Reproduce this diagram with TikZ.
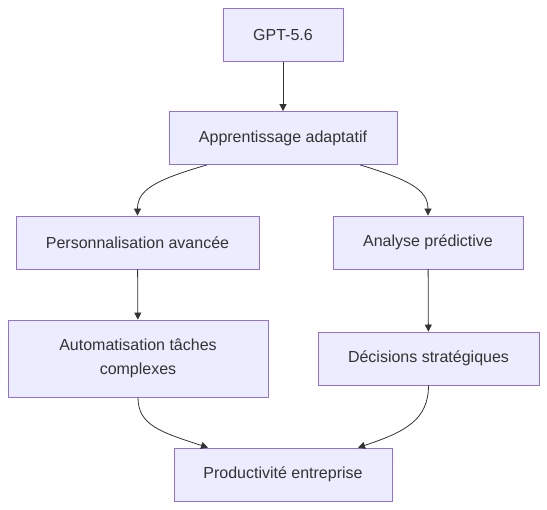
\documentclass[tikz,border=0pt]{standalone}
\usepackage{fontspec}
\setmainfont{Liberation Sans}
\usepackage{tikz}
\usetikzlibrary{arrows.meta}
\definecolor{boxfill}{HTML}{ECECFF}
\definecolor{boxline}{HTML}{9370DB}
\definecolor{ink}{HTML}{333333}
\begin{document}
\begin{tikzpicture}[x=1pt,y=1pt,
  main/.style = {draw=boxline, fill=boxfill, line width=0.8pt, text=ink, minimum height=53pt, align=center, font=\fontsize{16}{24}\selectfont},
  link/.style = {draw=ink, line width=0.8pt, -{Triangle[length=7pt,width=7pt]}},
  node distance={103pt}]
\useasboundingbox (0,0) rectangle (547,-510);
\node[main, minimum width=120pt] (gpt) at (283,-35) {GPT-5.6};
\node[main, minimum width=228pt] (appr) [below of=gpt] {Apprentissage adaptatif};
\node[main, minimum width=243pt] (pers) at (137.5,-242.5) {Personnalisation avancée};
\node[main, minimum width=190pt] (anal) at (428,-242.5) {Analyse prédictive};
\node[main, minimum width=260pt, minimum height=77pt] (auto) at (138,-358.5) {Automatisation tâches\\complexes};
\node[main, minimum width=221pt] (dec) at (428.5,-358.5) {Décisions stratégiques};
\node[main, minimum width=218pt] (prod) at (283,-474.5) {Productivité entreprise};
\draw[link] (gpt) -- (appr);
\draw[link] ([xshift=-76pt]appr.south) .. controls (155,-180) and (137.5,-190) .. (pers.north);
\draw[link] ([xshift=77pt]appr.south) .. controls (410,-180) and (428,-190) .. (anal.north);
\draw[link] (pers) -- (auto);
\draw[link] (anal) -- (dec);
\draw[link] (auto.south) .. controls (138,-425) and (160,-432) .. ([xshift=-75pt]prod.north);
\draw[link] (dec.south) .. controls (428.5,-420) and (405,-432) .. ([xshift=75pt]prod.north);
\end{tikzpicture}
\end{document}
